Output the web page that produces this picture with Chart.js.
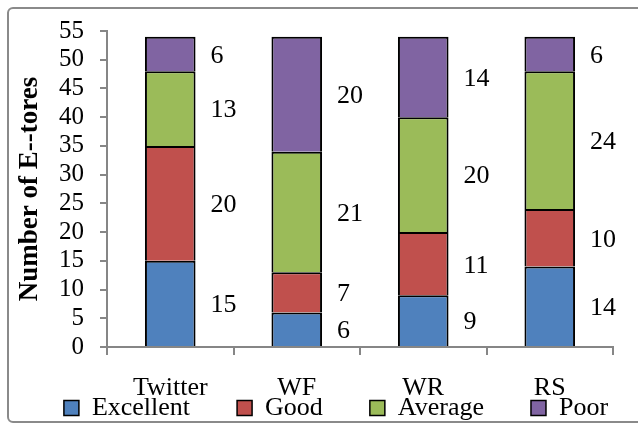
<!DOCTYPE html>
<html>
<head>
<meta charset="utf-8">
<style>
  html, body { margin: 0; padding: 0; background: #fff; }
  #wrap { position: relative; width: 638px; height: 428px; overflow: hidden; }
  #frame { position: absolute; left: 7px; top: 7px; width: 660px; height: 412px; border: 2px solid #8a8a8a; border-radius: 6px; }
  #myChart { position: absolute; left: 0; top: 0; }
</style>
</head>
<body>
<div id="wrap">
  <div id="frame"></div>
  <canvas id="myChart" width="638" height="428"></canvas>
</div>

<script src="https://cdn.jsdelivr.net/npm/chart.js"></script>
<script>
  // values
  const sites = ['Twitter', 'WF', 'WR', 'RS'];
  const excellent = [15, 6, 9, 14];
  const good = [20, 7, 11, 10];
  const average = [13, 21, 20, 24];
  const poor = [6, 20, 14, 6];
  const yMax = 55, yStep = 5;

  const serif = '"Liberation Serif", "Times New Roman", serif';
  Chart.defaults.font.family = serif;
  Chart.defaults.color = '#000';

  function ds(label, data, color) {
    return {
      label: label,
      data: data,
      backgroundColor: color,
      borderColor: '#000',
      borderWidth: 2,
      categoryPercentage: 0.4,
      barPercentage: 1
    };
  }

  // numbers written to the right of each segment
  const valueLabels = {
    id: 'valueLabels',
    afterDatasetsDraw(chart) {
      const ctx = chart.ctx;
      ctx.save();
      ctx.font = '26px ' + serif;
      ctx.fillStyle = '#000';
      ctx.textAlign = 'left';
      ctx.textBaseline = 'middle';
      chart.data.datasets.forEach(function (d, i) {
        chart.getDatasetMeta(i).data.forEach(function (bar, j) {
          const p = bar.getProps(['x', 'y', 'base', 'width'], true);
          ctx.fillText(String(d.data[j]), p.x + p.width / 2 + 15, (p.y + p.base) / 2 + 2);
        });
      });
      ctx.restore();
    }
  };

  const axisGrey = '#868686';

  new Chart(document.getElementById('myChart'), {
    type: 'bar',
    data: {
      labels: sites,
      datasets: [
        ds('Excellent', excellent, '#4F81BD'),
        ds('Good', good, '#C0504D'),
        ds('Average', average, '#9BBB59'),
        ds('Poor', poor, '#8064A2')
      ]
    },
    plugins: [valueLabels],
    options: {
      responsive: false,
      animation: false,
      layout: { padding: { left: 34, right: 0, top: 29, bottom: -3 } },
      plugins: {
        tooltip: { enabled: false },
        legend: {
          position: 'bottom',
          labels: {
            font: { size: 26 },
            color: '#000',
            boxWidth: 15,
            boxHeight: 15,
            padding: 8,
            generateLabels: function (chart) {
              const items = Chart.defaults.plugins.legend.labels.generateLabels(chart);
              items.forEach(function (it, i) {
                it.lineWidth = 1.5;
                if (i < items.length - 1) it.text = it.text + '      ';
              });
              return items;
            }
          }
        }
      },
      scales: {
        x: {
          stacked: true,
          grid: { drawOnChartArea: false, tickLength: 8, color: axisGrey, lineWidth: 2 },
          border: { color: axisGrey, width: 2 },
          // mirror keeps the labels from being clipped to the short axis box
          ticks: { font: { size: 26 }, color: '#000', mirror: true, padding: -57 },
          afterFit: function (s) { s.height = 40; }
        },
        y: {
          stacked: true,
          min: 0,
          max: yMax,
          ticks: { stepSize: yStep, autoSkip: false, font: { size: 25 }, color: '#000', padding: 16 },
          grid: { drawOnChartArea: false, tickLength: 7, color: axisGrey, lineWidth: 2 },
          border: { color: axisGrey, width: 2 },
          title: {
            display: true,
            text: 'Number of E--tores',
            font: { size: 27, weight: 'bold' },
            color: '#000',
            padding: { top: -20, bottom: 0 }
          },
          afterFit: function (s) { s.width = 73; }
        },
        yRight: {
          position: 'right',
          display: true,
          grid: { display: false },
          border: { display: false },
          ticks: { display: false },
          afterFit: function (s) { s.width = 25; }
        }
      }
    }
  });
</script>
</body>
</html>
